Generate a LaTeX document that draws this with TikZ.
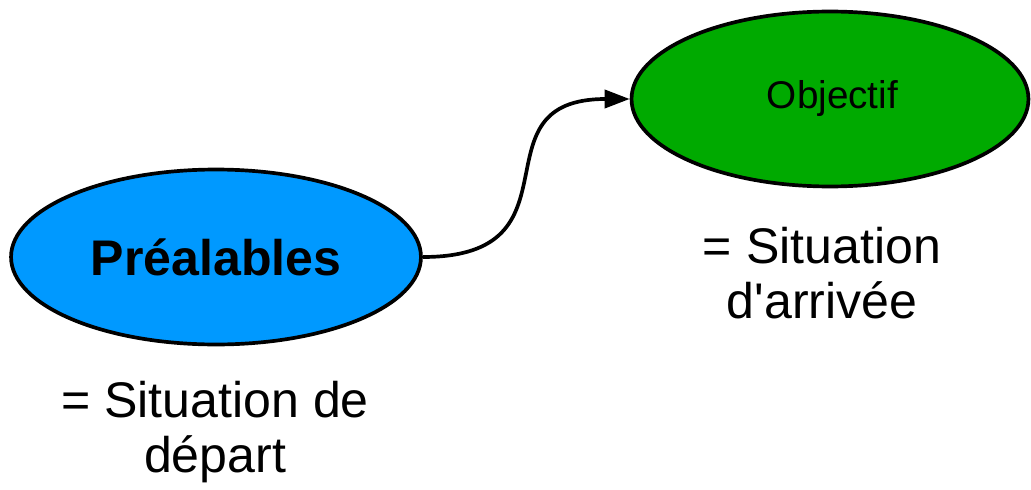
\documentclass[tikz,border=0pt]{standalone}
\usepackage{fontspec}
\setmainfont{Liberation Sans}
\usepackage{xcolor}
\usetikzlibrary{positioning,arrows.meta,shapes.geometric}
\definecolor{preblue}{HTML}{0099FF}
\definecolor{objgreen}{HTML}{00AA00}
\begin{document}
\begin{tikzpicture}[
            x = 0.02cm, y = -0.02cm,
            every node/.append style = {inner sep = 0pt},
            bubble/.style = {ellipse, draw, line width = 2.1pt},
            caption/.style = {align = center, font = \fontsize{28.5}{31.5}\selectfont}]
            \useasboundingbox (0,0) rectangle (1031,490);
            \node[bubble, fill = preblue, minimum width = 8.2cm, minimum height = 3.5cm] (nprealables) at (216,257)
                {\fontsize{28.5}{31.5}\selectfont\bfseries Préalables};
            \node[bubble, fill = objgreen, minimum width = 7.94cm, minimum height = 3.5cm] (nobjectif) at (830,99)
                {\hspace{0.1cm}\fontsize{22}{26}\selectfont Objectif};
            \node[caption] (ndepart) at (215,432) {= Situation de\\départ};
            \node[caption] (narrivee) at (822,273) {= Situation\\d\textquotesingle arrivée};
            \draw [line width = 2.1pt, -{Triangle[length = 0.5cm, width = 0.36cm]}]
                (nprealables.east) .. controls +(165,0) and +(-160,0) .. (nobjectif.west);
        \end{tikzpicture}
\end{document}
